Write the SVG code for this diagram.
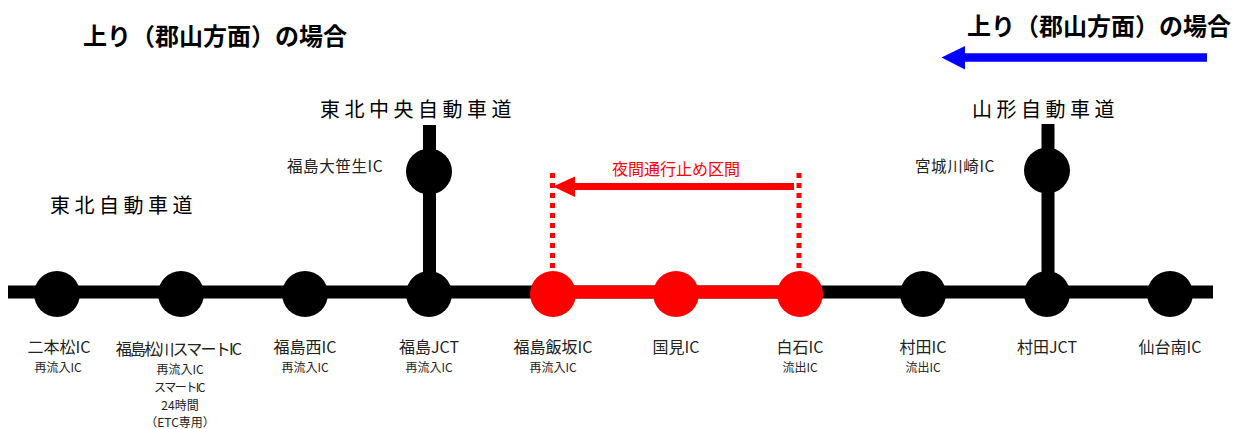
<svg xmlns="http://www.w3.org/2000/svg" width="1242" height="429" viewBox="0 0 1242 429">
<style>
text{font-family:"Noto Sans CJK JP","Noto Sans",sans-serif;}
.title{font-size:24px;font-weight:700;fill:#000;}
.road{font-size:20px;letter-spacing:4.5px;fill:#000;}
.lbl{font-size:16px;fill:#222;text-anchor:middle;}
.sub{font-size:12px;fill:#222;text-anchor:middle;}
.side{font-size:15.5px;letter-spacing:0.6px;fill:#222;}
.red{fill:#FF0000;}
.blk{fill:#000;}
</style>

<g id="titles">
<text class="title" x="83" y="45">上り（郡山方面）の場合</text>
<text class="title" x="967" y="35">上り（郡山方面）の場合</text>
<text class="road" x="320" y="117">東北中央自動車道</text>
<text class="road" x="972" y="117">山形自動車道</text>
<text class="road" x="50" y="213">東北自動車道</text>
</g>

<g id="connectors">
<rect x="8" y="285.5" width="1205" height="13" class="blk"/>
<rect x="423" y="125" width="13" height="167" class="blk"/>
<rect x="1041.5" y="124" width="13" height="168" class="blk"/>
<rect x="553" y="285.5" width="247" height="13" class="red"/>
<line x1="552.5" y1="173" x2="552.5" y2="272" stroke="#FF0000" stroke-width="5" stroke-dasharray="5 5"/>
<line x1="799" y1="173" x2="799" y2="272" stroke="#FF0000" stroke-width="5" stroke-dasharray="5 5"/>
<line x1="794" y1="186.5" x2="574" y2="186.5" stroke="#FF0000" stroke-width="7"/>
<path d="M553,186.5 L575,176.5 L575,197 Z" fill="#FF0000"/>
<line x1="1207" y1="57.5" x2="964" y2="57.5" stroke="#0000FF" stroke-width="8.5"/>
<path d="M941.5,57.5 L965,46 L965,69.5 Z" fill="#0000FF"/>
<text x="676" y="175" text-anchor="middle" font-size="16" fill="#FF0000" style="font-family:'Noto Sans CJK JP',sans-serif">夜間通行止め区間</text>
</g>

<g id="n-nihonmatsu">
<circle cx="57" cy="294" r="23" class="blk"/>
<text class="lbl" x="59" y="353">二本松IC</text>
<text class="sub" x="58" y="372">再流入IC</text>
</g>
<g id="n-matsukawa">
<circle cx="181" cy="294" r="23" class="blk"/>
<text class="lbl" x="178" y="355" letter-spacing="-1.8">福島松川スマートIC</text>
<text class="sub" x="180" y="374">再流入IC</text>
<text class="sub" x="179" y="392" letter-spacing="-1.5">スマートIC</text>
<text class="sub" x="180" y="410">24時間</text>
<text class="sub" x="180" y="427">（ETC専用）</text>
</g>
<g id="n-fukushimanishi">
<circle cx="305" cy="294" r="23" class="blk"/>
<text class="lbl" x="305" y="353">福島西IC</text>
<text class="sub" x="305" y="372">再流入IC</text>
</g>
<g id="n-fukushimajct">
<circle cx="429" cy="294" r="23" class="blk"/>
<text class="lbl" x="429" y="353">福島JCT</text>
<text class="sub" x="429" y="372">再流入IC</text>
</g>
<g id="n-osaso">
<circle cx="429" cy="171.5" r="23" class="blk"/>
<text class="side" x="287" y="172">福島大笹生IC</text>
</g>
<g id="n-iizaka">
<circle cx="553" cy="294" r="23" class="red"/>
<text class="lbl" x="553" y="353">福島飯坂IC</text>
<text class="sub" x="553" y="372">再流入IC</text>
</g>
<g id="n-kunimi">
<circle cx="676" cy="294" r="23" class="red"/>
<text class="lbl" x="676" y="353">国見IC</text>
</g>
<g id="n-shiroishi">
<circle cx="800" cy="294" r="23" class="red"/>
<text class="lbl" x="800" y="353">白石IC</text>
<text class="sub" x="800" y="372">流出IC</text>
</g>
<g id="n-murataic">
<circle cx="923" cy="294" r="23" class="blk"/>
<text class="lbl" x="923" y="353">村田IC</text>
<text class="sub" x="923" y="372">流出IC</text>
</g>
<g id="n-muratajct">
<circle cx="1047" cy="294" r="23" class="blk"/>
<text class="lbl" x="1047" y="353">村田JCT</text>
</g>
<g id="n-kawasaki">
<circle cx="1047" cy="170.5" r="23" class="blk"/>
<text class="side" x="915" y="172">宮城川崎IC</text>
</g>
<g id="n-sendaiminami">
<circle cx="1170" cy="294" r="23" class="blk"/>
<text class="lbl" x="1170" y="353">仙台南IC</text>
</g>
</svg>
